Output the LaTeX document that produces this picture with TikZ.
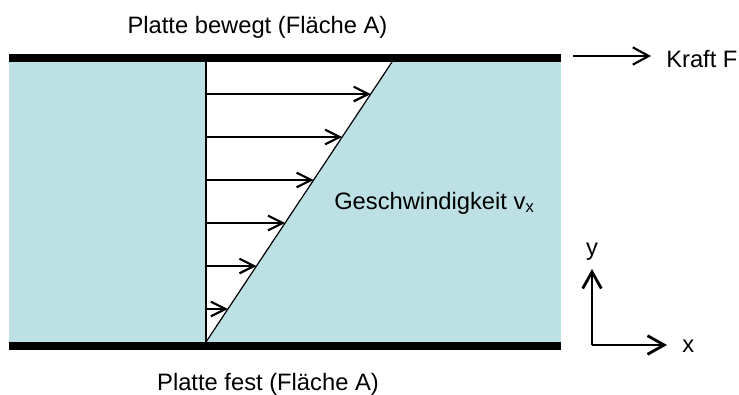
\documentclass[tikz,border=0pt]{standalone}
\usepackage{fontspec}
\setmainfont{Liberation Sans}
\usetikzlibrary{arrows.meta,calc}

\begin{document}
\begin{tikzpicture}[
    x=0.75pt, y=-0.75pt,
    txt/.style={inner sep=0pt, font=\fontsize{17.8}{21}\selectfont},
    plate/.style={line width=6pt, draw=black},
    flow/.style={-{Straight Barb[length=11pt,width=11pt]}, line width=1.6pt},
    force/.style={-{Straight Barb[length=12pt,width=13pt]}, line width=1.6pt},
    axis/.style={-{Straight Barb[length=12.5pt,width=14pt]}, line width=2.1pt}
]
\useasboundingbox (0,0) rectangle (739,394);

% Fluid between the plates
\fill[fill={rgb,255:red,189;green,224;blue,228}] (9,62) rectangle (561,342);
\coordinate (base) at (206,342);
\coordinate (top) at (392,62);
\coordinate (wall) at (206,62);
\fill[white] (wall) -- (top) -- (base) -- cycle;
\draw[line width=0.9pt] (wall) -- (base);
\draw[line width=0.9pt] (base) -- (top);

% Plates
\draw[plate] (9,58) -- (561,58);
\draw[plate] (9,346) -- (561,346);

% Velocity profile
\foreach \k in {0,...,5} {
    \coordinate (s\k) at ($(base)!{(33+43*\k)/280}!(wall)$);
    \coordinate (e\k) at ($(base)!{(33+43*\k)/280}!(top)$);
    \draw[flow] (s\k) -- (e\k);
}

% Labels
\node[txt, anchor=base] (moving) at (257.5,33) {Platte bewegt (Fläche A)};
\node[txt, anchor=base] (fixed) at (268,390) {Platte fest (Fläche A)};
\node[txt, anchor=base west] (speed) at (334,209) {Geschwindigkeit v\textsubscript{x}};
\node[txt, anchor=base west] (force) at (666,67) {Kraft F};

% Force on the plate
\coordinate (f0) at (573,56);
\coordinate (f1) at (651,56);
\draw[force] (f0) -- (f1);

% Coordinate axes
\coordinate (origin) at (592,345);
\coordinate (ytip) at (592,269);
\coordinate (xtip) at (667,345);
\draw[axis] (origin) -- (ytip);
\draw[axis] (origin) -- (xtip);
\node[txt, anchor=base] (ylabel) at (592,255) {y};
\node[txt, anchor=base west] (xlabel) at (682,352) {x};

\end{tikzpicture}
\end{document}
